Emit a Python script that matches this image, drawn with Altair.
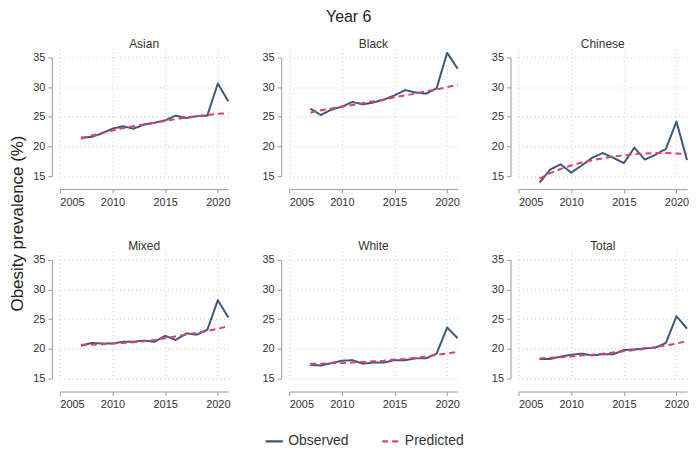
import altair as alt
import pandas as pd

years = list(range(2007, 2022))
groups = ["Asian", "Black", "Chinese", "Mixed", "White", "Total"]

asian_obs = [21.5, 21.6, 22.2, 23.0, 23.4, 23.0, 23.7, 24.0, 24.4, 25.2, 24.8, 25.1, 25.2, 30.6, 27.6]
asian_pred = [21.3, 21.8, 22.3, 22.7, 23.1, 23.4, 23.7, 24.0, 24.3, 24.6, 24.9, 25.1, 25.3, 25.5, 25.6]
black_obs = [26.4, 25.3, 26.2, 26.7, 27.5, 27.1, 27.4, 27.9, 28.6, 29.5, 29.1, 28.9, 29.8, 35.8, 33.1]
black_pred = [25.7, 26.1, 26.4, 26.7, 27.0, 27.3, 27.6, 27.9, 28.3, 28.6, 28.9, 29.3, 29.6, 30.0, 30.4]
chinese_obs = [13.9, 16.1, 17.0, 15.6, 16.8, 18.1, 18.9, 18.1, 17.2, 19.8, 17.8, 18.6, 19.6, 24.2, 17.7]
chinese_pred = [14.6, 15.5, 16.2, 16.8, 17.3, 17.7, 18.0, 18.3, 18.5, 18.7, 18.8, 18.9, 18.9, 18.8, 18.7]
mixed_obs = [20.5, 21.0, 20.9, 20.9, 21.2, 21.2, 21.4, 21.2, 22.2, 21.5, 22.6, 22.4, 23.2, 28.2, 25.3]
mixed_pred = [20.7, 20.7, 20.8, 20.9, 21.0, 21.1, 21.3, 21.5, 21.8, 22.1, 22.4, 22.7, 23.0, 23.4, 23.8]
white_obs = [17.3, 17.2, 17.6, 18.0, 18.1, 17.5, 17.7, 17.7, 18.1, 18.1, 18.4, 18.4, 19.2, 23.6, 21.8]
white_pred = [17.5, 17.5, 17.6, 17.6, 17.7, 17.8, 17.9, 18.0, 18.2, 18.3, 18.5, 18.7, 19.0, 19.2, 19.5]
total_obs = [18.3, 18.3, 18.7, 19.0, 19.2, 18.9, 19.1, 19.1, 19.8, 19.9, 20.1, 20.2, 21.0, 25.5, 23.4]
total_pred = [18.4, 18.5, 18.6, 18.7, 18.9, 19.0, 19.2, 19.4, 19.6, 19.8, 20.0, 20.3, 20.6, 20.9, 21.3]

series = {
    "Asian": (asian_obs, asian_pred),
    "Black": (black_obs, black_pred),
    "Chinese": (chinese_obs, chinese_pred),
    "Mixed": (mixed_obs, mixed_pred),
    "White": (white_obs, white_pred),
    "Total": (total_obs, total_pred),
}

rows = []
for g in groups:
    obs, pred = series[g]
    for y, o, p in zip(years, obs, pred):
        rows.append({"group": g, "year": y, "value": o, "series": "Observed"})
        rows.append({"group": g, "year": y, "value": p, "series": "Predicted"})
df = pd.DataFrame(rows)

FONT = "Liberation Sans"
AXIS_COLOR = "#9a9a9a"
GRID_COLOR = "#d9d9d9"

# y scale runs 15..36.5 (so the 2020 Black peak fits); axis line dashed to stop at 35
Y_TOP = 36.5
PLOT_H = 128
AXIS_LEN = PLOT_H * 20 / (Y_TOP - 15)

base = alt.Chart(df).mark_line(strokeWidth=2, strokeJoin="round").encode(
    x=alt.X(
        "year:Q",
        scale=alt.Scale(domain=[2005, 2021], nice=False, zero=False),
        axis=alt.Axis(
            values=[2005, 2010, 2015, 2020], format="d", title=None,
            offset=13, tickSize=4, labelPadding=3,
            grid=True, gridDash=[1, 3], gridColor=GRID_COLOR, gridWidth=1.5,
            domainColor=AXIS_COLOR, tickColor=AXIS_COLOR,
            labelColor="#333333", labelFontSize=11, labelFont=FONT,
        ),
    ),
    y=alt.Y(
        "value:Q",
        scale=alt.Scale(domain=[15, Y_TOP], nice=False, zero=False),
        axis=alt.Axis(
            values=[15, 20, 25, 30, 35], title=None,
            offset=8, tickSize=4, labelPadding=3,
            grid=True, gridDash=[1, 3], gridColor=GRID_COLOR, gridWidth=1.5,
            domainColor=AXIS_COLOR, tickColor=AXIS_COLOR,
            domainDash=[AXIS_LEN, 400],
            labelColor="#333333", labelFontSize=11, labelFont=FONT,
        ),
    ),
    color=alt.Color(
        "series:N",
        scale=alt.Scale(domain=["Observed", "Predicted"], range=["#3b5a7d", "#d9436d"]),
        legend=alt.Legend(
            title=None, orient="none", direction="horizontal",
            legendX=205, legendY=384,
            symbolType="stroke", symbolStrokeWidth=2.5, symbolSize=300,
            labelFontSize=14, labelFont=FONT, labelColor="#333333",
            columnPadding=28,
        ),
    ),
    strokeDash=alt.StrokeDash(
        "series:N",
        scale=alt.Scale(domain=["Observed", "Predicted"], range=[[1, 0], [6, 4]]),
        legend=None,
    ),
    order=alt.Order("year:Q"),
).properties(width=169, height=PLOT_H)

facet = base.facet(
    facet=alt.Facet(
        "group:N", sort=groups, title=None,
        header=alt.Header(labelFontSize=12, labelFont=FONT, labelColor="#333333", labelPadding=-2),
    ),
    columns=3,
    spacing={"row": 75, "column": 61},
    bounds="flush",
).resolve_axis(x="independent", y="independent").properties(
    title=alt.TitleParams(
        "Obesity prevalence (%)", orient="left", anchor="middle",
        fontSize=17, font=FONT, fontWeight="normal", color="#222222", offset=6,
    )
)

chart = alt.vconcat(facet).properties(
    title=alt.TitleParams(
        "Year 6", anchor="middle", fontSize=16, font=FONT, fontWeight="normal",
        color="#222222", offset=13,
    ),
    padding={"left": 0, "top": 0, "right": 0, "bottom": 0},
).configure_view(stroke=None)

chart.save("out.html", embed_options={"renderer": "svg", "actions": False})
